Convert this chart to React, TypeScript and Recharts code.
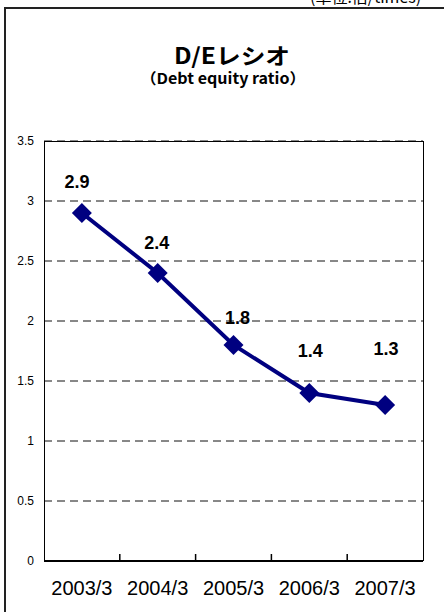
import { LineChart, Line, XAxis, YAxis, CartesianGrid, LabelList } from 'recharts'

const categories = ['2003/3', '2004/3', '2005/3', '2006/3', '2007/3']
const deRatio = [2.9, 2.4, 1.8, 1.4, 1.3]
const yTicks = [0, 0.5, 1, 1.5, 2, 2.5, 3, 3.5]

// labels in the original were nudged by hand, so keep per-point offsets
const labelNudge = [
  [-5, -31],
  [-1, -30],
  [4, -27],
  [1, -42],
  [1, -56],
]

const W = 444
const H = 612
const PLOT = { left: 44, top: 141, right: 423, bottom: 561 }
const BAND = (PLOT.right - PLOT.left) / categories.length
const NAVY = '#000080'
const SANS = '"Liberation Sans", Arial, sans-serif'
const JP = '"Noto Sans CJK JP", "Liberation Sans", sans-serif'

const data = categories.map((period, i) => ({ period, value: deRatio[i] }))

const XTick = ({ x, y, payload, index }: any) => (
  <g>
    {index > 0 && (
      <line x1={x - BAND / 2} x2={x - BAND / 2} y1={y} y2={y - 7} stroke="#000" strokeWidth={1.5} />
    )}
    <text x={x} y={y + 34} textAnchor="middle" fontSize={20} fontFamily={SANS} fill="#000">
      {payload.value}
    </text>
  </g>
)

const Diamond = ({ cx, cy, index }: any) => {
  const r = 10
  return (
    <path
      key={`d-${index}`}
      d={`M${cx},${cy - r} L${cx + r},${cy} L${cx},${cy + r} L${cx - r},${cy} Z`}
      fill={NAVY}
    />
  )
}

const ValueLabel = ({ x, y, value, index }: any) => {
  const [dx, dy] = labelNudge[index] ?? [0, -30]
  return (
    <text
      x={x + dx}
      y={y + dy}
      textAnchor="middle"
      dominantBaseline="central"
      fontSize={18}
      fontWeight="bold"
      fontFamily={SANS}
      fill="#000"
    >
      {value}
    </text>
  )
}

export default function App() {
  return (
    <div
      style={{
        position: 'absolute',
        left: 0,
        top: 0,
        width: W,
        height: H,
        overflow: 'hidden',
        background: '#fff',
      }}
    >
      {/* outer frame, its right/bottom edges fall outside the crop */}
      <div
        style={{
          position: 'absolute',
          left: 4,
          top: 7,
          width: 520,
          height: 700,
          border: '2px solid #222',
          boxSizing: 'border-box',
        }}
      />
      <LineChart
        width={W}
        height={H}
        data={data}
        margin={{ top: PLOT.top, right: W - PLOT.right, bottom: 0, left: 0 }}
      >
        <CartesianGrid vertical={false} stroke="#111" strokeDasharray="8 5" />
        <XAxis
          dataKey="period"
          height={H - PLOT.bottom}
          interval={0}
          padding={{ left: BAND / 2, right: BAND / 2 }}
          tickSize={0}
          tickMargin={0}
          tickLine={false}
          axisLine={{ stroke: '#000', strokeWidth: 2 }}
          tick={<XTick />}
        />
        <YAxis
          width={PLOT.left}
          domain={[0, 3.5]}
          ticks={yTicks}
          axisLine={false}
          tickLine={false}
          tickSize={0}
          tickMargin={10}
          tick={{ fill: '#000', fontSize: 12, fontFamily: SANS }}
        />
        <Line
          dataKey="value"
          stroke={NAVY}
          strokeWidth={4}
          dot={<Diamond />}
          activeDot={false}
          isAnimationActive={false}
        >
          <LabelList dataKey="value" content={<ValueLabel />} />
        </Line>
      </LineChart>
      <div
        style={{
          position: 'absolute',
          left: PLOT.left,
          top: PLOT.top,
          width: PLOT.right - PLOT.left + 1,
          height: PLOT.bottom - PLOT.top,
          border: '1px solid #000',
          borderBottom: 'none',
          boxSizing: 'border-box',
          pointerEvents: 'none',
        }}
      />
      <svg
        width={W}
        height={H}
        style={{ position: 'absolute', left: 0, top: 0, pointerEvents: 'none' }}
      >
        <text x={310} y={3} fontSize={16} fontFamily={JP} fill="#000">
          (単位:倍/times)
        </text>
        <text
          x={232}
          y={64}
          textAnchor="middle"
          fontSize={22}
          fontWeight="bold"
          fontFamily={JP}
          textLength={116}
          lengthAdjust="spacingAndGlyphs"
          fill="#000"
        >
          D/Eレシオ
        </text>
        <text
          x={223}
          y={84}
          textAnchor="middle"
          fontSize={15}
          fontWeight="bold"
          fontFamily={JP}
          textLength={165}
          lengthAdjust="spacingAndGlyphs"
          fill="#000"
        >
          （Debt equity ratio）
        </text>
      </svg>
    </div>
  )
}
